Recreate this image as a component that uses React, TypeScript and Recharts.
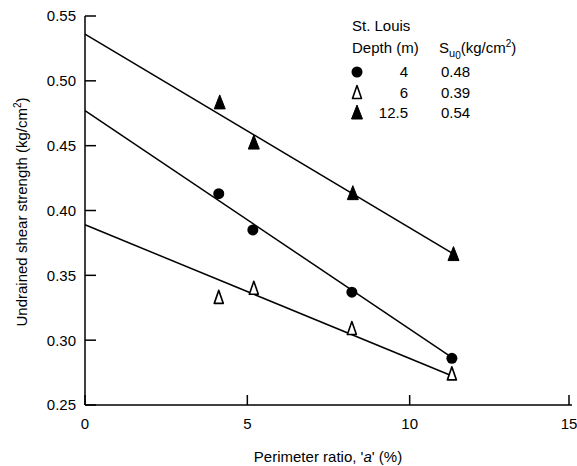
import { ScatterChart, Scatter, XAxis, YAxis } from "recharts";

// Measured strength vs perimeter ratio, St. Louis clay
const depth4X = [4.12, 5.17, 8.22, 11.3];
const depth4Y = [0.413, 0.385, 0.337, 0.286];
const depth6X = [4.12, 5.2, 8.22, 11.3];
const depth6Y = [0.333, 0.34, 0.309, 0.274];
const depth12X = [4.15, 5.2, 8.25, 11.35];
const depth12Y = [0.483, 0.452, 0.413, 0.366];

// Fitted straight lines (start at a = 0, i.e. S_u0)
const fit4X = [0, 11.4];
const fit4Y = [0.477, 0.285];
const fit6X = [0, 11.35];
const fit6Y = [0.389, 0.272];
const fit12X = [0, 11.45];
const fit12Y = [0.536, 0.365];

const xTicks = [0, 5, 10, 15];
const yTicks = [0.25, 0.3, 0.35, 0.4, 0.45, 0.5, 0.55];

const legendDepths = ["4", "6", "12.5"];
const legendSu0 = ["0.48", "0.39", "0.54"];

const FONT = "'Liberation Sans', Arial, Helvetica, sans-serif";
const W = 577;
const H = 466;
const PLOT_LEFT = 85;
const PLOT_BOTTOM = 405;

const zip = (xs: number[], ys: number[]) => xs.map((x, i) => ({ x, y: ys[i] }));

const Dot = ({ cx, cy }: any) => <circle cx={cx} cy={cy} r={5.5} fill="#000" />;
const OpenTri = ({ cx, cy }: any) => (
  <polygon
    points={`${cx},${cy - 7} ${cx - 4.5},${cy + 6} ${cx + 4.5},${cy + 6}`}
    fill="#fff"
    stroke="#000"
    strokeWidth={1.6}
    strokeLinejoin="round"
  />
);
const FilledTri = ({ cx, cy }: any) => (
  <polygon
    points={`${cx},${cy - 8} ${cx - 5.5},${cy + 6} ${cx + 5.5},${cy + 6}`}
    fill="#000"
    stroke="#000"
    strokeWidth={1}
    strokeLinejoin="round"
  />
);
const NoMark = () => <g />;

const YTick = ({ y, payload }: any) => (
  <g>
    <line x1={PLOT_LEFT} x2={PLOT_LEFT + 11} y1={y} y2={y} stroke="#000" strokeWidth={1.5} />
    <text x={PLOT_LEFT - 9} y={y} dy="0.36em" textAnchor="end" fontSize={15} fontFamily={FONT} fill="#000">
      {payload.value.toFixed(2)}
    </text>
  </g>
);

const XTick = ({ x, payload }: any) => (
  <g>
    <line x1={x} x2={x} y1={PLOT_BOTTOM} y2={PLOT_BOTTOM - 10} stroke="#000" strokeWidth={1.5} />
    <text x={x} y={PLOT_BOTTOM + 19} dy="0.36em" textAnchor="middle" fontSize={15} fontFamily={FONT} fill="#000">
      {payload.value}
    </text>
  </g>
);

const YTitle = () => (
  <text
    transform="translate(22, 212) rotate(-90)"
    textAnchor="middle"
    fontSize={15}
    fontFamily={FONT}
    fill="#000"
    dy="0.36em"
  >
    Undrained shear strength (kg/cm
    <tspan fontSize={10} dy={-6}>2</tspan>
    <tspan dy={6}>)</tspan>
  </text>
);

const XTitle = () => (
  <text x={328} y={457} dy="0.36em" textAnchor="middle" fontSize={15} fontFamily={FONT} fill="#000">
    Perimeter ratio, '<tspan fontStyle="italic">a</tspan>' (%)
  </text>
);

const legendMarks = [Dot, OpenTri, FilledTri];

function LegendBox() {
  const t = { fontSize: 15, fontFamily: FONT, fill: "#000" };
  return (
    <svg width={W} height={H} style={{ position: "absolute", left: 0, top: 0, pointerEvents: "none" }}>
      <text x={352} y={31} {...t}>St. Louis</text>
      <text x={352} y={53} {...t}>Depth (m)</text>
      <text x={439} y={53} {...t}>
        S<tspan fontSize={11} dy={4}>u</tspan>
        <tspan fontSize={10} dy={2}>0</tspan>
        <tspan dy={-6}>(kg/cm</tspan>
        <tspan fontSize={10} dy={-6}>2</tspan>
        <tspan dy={6}>)</tspan>
      </text>
      {legendDepths.map((d, i) => {
        const Mark = legendMarks[i];
        const cy = 72 + i * 20.5;
        return (
          <g key={d}>
            <Mark cx={357} cy={cy} />
            <text x={408} y={cy + 5} textAnchor="end" {...t}>{d}</text>
            <text x={441} y={cy + 5} {...t}>{legendSu0[i]}</text>
          </g>
        );
      })}
    </svg>
  );
}

export default function App() {
  const line = { stroke: "#000", strokeWidth: 1.5 };
  return (
    <div style={{ position: "absolute", left: 0, top: 0, width: W, height: H, background: "#fff" }}>
      <ScatterChart width={W} height={H} margin={{ top: 16, right: 5, bottom: 31, left: 0 }}>
        <XAxis
          type="number"
          dataKey="x"
          domain={[0, 15]}
          ticks={xTicks}
          height={30}
          tickLine={false}
          tick={<XTick />}
          axisLine={{ stroke: "#000", strokeWidth: 1.5 }}
          label={<XTitle />}
        />
        <YAxis
          type="number"
          dataKey="y"
          domain={[0.25, 0.55]}
          ticks={yTicks}
          width={85}
          allowDataOverflow
          tickLine={false}
          tick={<YTick />}
          axisLine={{ stroke: "#000", strokeWidth: 1.5 }}
          label={<YTitle />}
        />
        <Scatter data={zip(fit12X, fit12Y)} line={line} shape={NoMark} isAnimationActive={false} />
        <Scatter data={zip(fit4X, fit4Y)} line={line} shape={NoMark} isAnimationActive={false} />
        <Scatter data={zip(fit6X, fit6Y)} line={line} shape={NoMark} isAnimationActive={false} />
        <Scatter data={zip(depth12X, depth12Y)} shape={FilledTri} isAnimationActive={false} />
        <Scatter data={zip(depth4X, depth4Y)} shape={Dot} isAnimationActive={false} />
        <Scatter data={zip(depth6X, depth6Y)} shape={OpenTri} isAnimationActive={false} />
      </ScatterChart>
      <LegendBox />
    </div>
  );
}
